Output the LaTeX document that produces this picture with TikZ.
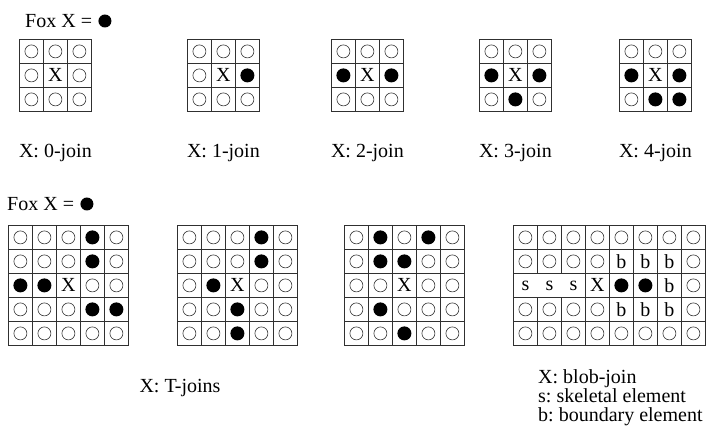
\documentclass[tikz,border=0pt]{standalone}
\usepackage{fontspec}
\setmainfont{Liberation Serif}
\usetikzlibrary{positioning,matrix}
\definecolor{gridline}{HTML}{303030}
\tikzset{
  cell/.style={draw=gridline, line width=0.8pt, minimum width=24pt, minimum height=24pt, inner sep=0pt, outer sep=0pt, anchor=center},
  emp/.style={path picture={\draw[line width=0.6pt] (path picture bounding box.center) circle (6.5pt);}},
  blk/.style={path picture={\fill (path picture bounding box.center) circle (7pt);}},
  board/.style={matrix of nodes, nodes in empty cells, inner sep=0pt, outer sep=0pt, anchor=north west, column sep=-0.8pt, row sep=-0.8pt, nodes={cell}},
  caption/.style={inner sep=0pt},
  foxdot/.style={circle, fill=black, inner sep=0pt, minimum size=13pt}
}

\begin{document}
\frenchspacing
\begin{tikzpicture}[x=1pt, y=-1pt, font=\fontsize{20}{19}\selectfont]
  \useasboundingbox (0,0) rectangle (710,433);

  % top row: n-joins
  \node[caption, anchor=west] (fox1) at (25,21) {Fox X =};
  \node[foxdot, right=6pt of fox1] (foxdot1) {};

  \matrix (join0) [board] at (19,39) {
    |[emp]| & |[emp]| & |[emp]| \\
    |[emp]| & X & |[emp]| \\
    |[emp]| & |[emp]| & |[emp]| \\
  };
  \matrix (join1) [board] at (187,39) {
    |[emp]| & |[emp]| & |[emp]| \\
    |[emp]| & X & |[blk]| \\
    |[emp]| & |[emp]| & |[emp]| \\
  };
  \matrix (join2) [board] at (331,39) {
    |[emp]| & |[emp]| & |[emp]| \\
    |[blk]| & X & |[blk]| \\
    |[emp]| & |[emp]| & |[emp]| \\
  };
  \matrix (join3) [board] at (479,39) {
    |[emp]| & |[emp]| & |[emp]| \\
    |[blk]| & X & |[blk]| \\
    |[emp]| & |[blk]| & |[emp]| \\
  };
  \matrix (join4) [board] at (619,39) {
    |[emp]| & |[emp]| & |[emp]| \\
    |[blk]| & X & |[blk]| \\
    |[emp]| & |[blk]| & |[blk]| \\
  };

  \node[caption, below=32pt of join0] (lab0) {X: 0-join};
  \node[caption, below=32pt of join1] (lab1) {X: 1-join};
  \node[caption, below=32pt of join2] (lab2) {X: 2-join};
  \node[caption, below=32pt of join3] (lab3) {X: 3-join};
  \node[caption, below=32pt of join4] (lab4) {X: 4-join};

  % bottom row: T-joins and blob-join
  \node[caption, anchor=west] (fox2) at (7,204) {Fox X =};
  \node[foxdot, right=6pt of fox2] (foxdot2) {};

  \matrix (tjoin1) [board] at (8,225) {
    |[emp]| & |[emp]| & |[emp]| & |[blk]| & |[emp]| \\
    |[emp]| & |[emp]| & |[emp]| & |[blk]| & |[emp]| \\
    |[blk]| & |[blk]| & X & |[emp]| & |[emp]| \\
    |[emp]| & |[emp]| & |[emp]| & |[blk]| & |[blk]| \\
    |[emp]| & |[emp]| & |[emp]| & |[emp]| & |[emp]| \\
  };
  \matrix (tjoin2) [board] at (177,225) {
    |[emp]| & |[emp]| & |[emp]| & |[blk]| & |[emp]| \\
    |[emp]| & |[emp]| & |[emp]| & |[blk]| & |[emp]| \\
    |[emp]| & |[blk]| & X & |[emp]| & |[emp]| \\
    |[emp]| & |[emp]| & |[blk]| & |[emp]| & |[emp]| \\
    |[emp]| & |[emp]| & |[blk]| & |[emp]| & |[emp]| \\
  };
  \matrix (tjoin3) [board] at (344,225) {
    |[emp]| & |[blk]| & |[emp]| & |[blk]| & |[emp]| \\
    |[emp]| & |[blk]| & |[blk]| & |[emp]| & |[emp]| \\
    |[emp]| & |[emp]| & X & |[emp]| & |[emp]| \\
    |[emp]| & |[blk]| & |[emp]| & |[emp]| & |[emp]| \\
    |[emp]| & |[emp]| & |[blk]| & |[emp]| & |[emp]| \\
  };
  \matrix (blob) [board] at (513,225) {
    |[emp]| & |[emp]| & |[emp]| & |[emp]| & |[emp]| & |[emp]| & |[emp]| & |[emp]| \\
    |[emp]| & |[emp]| & |[emp]| & |[emp]| & b & b & b & |[emp]| \\
    |[draw=none]| s & |[draw=none]| s & |[draw=none]| s & X & |[blk]| & |[blk]| & b & |[emp]| \\
    |[emp]| & |[emp]| & |[emp]| & |[emp]| & b & b & b & |[emp]| \\
    |[emp]| & |[emp]| & |[emp]| & |[emp]| & |[emp]| & |[emp]| & |[emp]| & |[emp]| \\
  };
  \draw[draw=gridline, line width=0.8pt] (blob.north west) rectangle (blob.south east);

  \node[caption] (tlabel) at (180,388) {X: T-joins};
  \node[caption, anchor=north west, align=left] (bloblabel) at (538,369) {X: blob-join\\s: skeletal element\\b: boundary element};
\end{tikzpicture}
\end{document}
